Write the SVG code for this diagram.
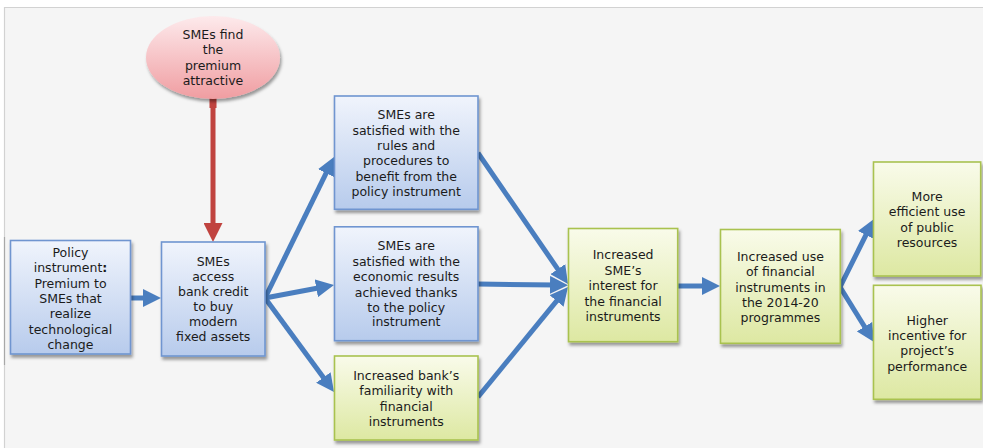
<svg xmlns="http://www.w3.org/2000/svg" width="983" height="448" viewBox="0 0 983 448">
<defs>
<linearGradient id="gBlue" x1="0" y1="0" x2="0" y2="1">
<stop offset="0" stop-color="#f0f4fc"/>
<stop offset="1" stop-color="#b7cbec"/>
</linearGradient>
<linearGradient id="gGreen" x1="0" y1="0" x2="0" y2="1">
<stop offset="0" stop-color="#f9fbea"/>
<stop offset="1" stop-color="#dde8a2"/>
</linearGradient>
<linearGradient id="gPink" x1="0" y1="0" x2="0" y2="1">
<stop offset="0" stop-color="#fdeaec"/>
<stop offset="1" stop-color="#f09da1"/>
</linearGradient>
<filter id="shadow" x="-20%" y="-20%" width="140%" height="150%">
<feDropShadow dx="1.5" dy="3" stdDeviation="1.8" flood-color="#000" flood-opacity="0.38"/>
</filter>
<marker id="headBlue" markerUnits="userSpaceOnUse" markerWidth="18" markerHeight="18" refX="6" refY="9" orient="auto" viewBox="0 0 18 18">
<path d="M0,0 L18,9 L0,18 z" fill="#4a7ebf"/>
</marker>
<marker id="headRed" markerUnits="userSpaceOnUse" markerWidth="19" markerHeight="19" refX="6" refY="9.5" orient="auto" viewBox="0 0 19 19">
<path d="M0,0 L19,9.5 L0,19 z" fill="#c0433f"/>
</marker>
</defs>
<style>
.box{stroke-width:1.6;filter:url(#shadow)}
.blue{fill:url(#gBlue);stroke:#6f95d0}
.green{fill:url(#gGreen);stroke:#a9c250}
.lbl{font-family:"DejaVu Sans","Verdana",sans-serif;font-size:12.5px;fill:#1b1b1b;text-anchor:middle}
.conn{fill:none;stroke:#4a7ebf;stroke-width:5;marker-end:url(#headBlue)}
.red{fill:none;stroke:#c0433f;stroke-width:5;marker-end:url(#headRed)}
</style>
<rect x="0" y="0" width="983" height="448" fill="#ffffff"/>
<rect x="4" y="7" width="979" height="441" fill="#f5f5f5"/>
<line x1="4" y1="7.5" x2="983" y2="7.5" stroke="#d2d2d2" stroke-width="1.2"/>
<line x1="4.5" y1="7" x2="4.5" y2="448" stroke="#d2d2d2" stroke-width="1.2"/>
<line x1="4.5" y1="237" x2="4.5" y2="365" stroke="#a8a8a8" stroke-width="1.2"/>

<g id="connectors">
<line class="red" x1="213" y1="99" x2="213" y2="229"/>
<rect x="209.5" y="98" width="7" height="10" fill="#c0433f"/>
<line class="conn" x1="131" y1="298" x2="149" y2="298"/>
<line class="conn" x1="265" y1="298" x2="328.7" y2="167.8"/>
<line class="conn" x1="265" y1="298" x2="322.2" y2="287.2"/>
<line class="conn" x1="265" y1="298" x2="326.9" y2="382.3"/>
<line class="conn" x1="478" y1="153" x2="561.2" y2="274.1"/>
<line class="conn" x1="478" y1="284" x2="556" y2="285"/>
<line class="conn" x1="478" y1="397" x2="560.4" y2="296.3"/>
<line class="conn" x1="678" y1="286" x2="708" y2="286"/>
<line class="conn" x1="840" y1="287" x2="868.6" y2="229.7"/>
<line class="conn" x1="840" y1="287" x2="867.7" y2="331.8"/>
</g>

<g id="premium">
<ellipse cx="213" cy="57.5" rx="67" ry="41.5" fill="url(#gPink)" filter="url(#shadow)"/>
<text class="lbl"><tspan x="213" y="38.6">SMEs find</tspan><tspan x="213" y="54.3">the</tspan><tspan x="213" y="70">premium</tspan><tspan x="213" y="85">attractive</tspan></text>
</g>

<g id="policy">
<rect class="box blue" x="10.5" y="240.5" width="120" height="113.5"/>
<text class="lbl"><tspan x="70.5" y="257">Policy</tspan><tspan x="70.5" y="272.3">instrument<tspan font-weight="bold">:</tspan></tspan><tspan x="70.5" y="288.3">Premium to</tspan><tspan x="70.5" y="303.3">SMEs that</tspan><tspan x="70.5" y="318.3">realize</tspan><tspan x="70.5" y="334.3">technological</tspan><tspan x="70.5" y="349.3">change</tspan></text>
</g>

<g id="access">
<rect class="box blue" x="161.5" y="242" width="103.5" height="114"/>
<text class="lbl"><tspan x="213.2" y="266">SMEs</tspan><tspan x="213.2" y="281.3">access</tspan><tspan x="213.2" y="296">bank credit</tspan><tspan x="213.2" y="311.3">to buy</tspan><tspan x="213.2" y="326.3">modern</tspan><tspan x="213.2" y="341.3">fixed assets</tspan></text>
</g>

<g id="rules">
<rect class="box blue" x="334.5" y="96" width="143.5" height="113.3"/>
<text class="lbl"><tspan x="406.2" y="118.6">SMEs are</tspan><tspan x="406.2" y="135">satisfied with the</tspan><tspan x="406.2" y="150">rules and</tspan><tspan x="406.2" y="165">procedures to</tspan><tspan x="406.2" y="180.6">benefit from the</tspan><tspan x="406.2" y="196">policy instrument</tspan></text>
</g>

<g id="results">
<rect class="box blue" x="334.5" y="226.8" width="143.5" height="113.9"/>
<text class="lbl"><tspan x="406.2" y="250.3">SMEs are</tspan><tspan x="406.2" y="266">satisfied with the</tspan><tspan x="406.2" y="281">economic results</tspan><tspan x="406.2" y="296.6">achieved thanks</tspan><tspan x="406.2" y="311.6">to the policy</tspan><tspan x="406.2" y="326.3">instrument</tspan></text>
</g>

<g id="bank">
<rect class="box green" x="334.5" y="356" width="143.5" height="84"/>
<text class="lbl"><tspan x="406.2" y="380">Increased bank’s</tspan><tspan x="406.2" y="395.3">familiarity with</tspan><tspan x="406.2" y="411">financial</tspan><tspan x="406.2" y="426">instruments</tspan></text>
</g>

<g id="interest">
<rect class="box green" x="568.5" y="228.5" width="109.2" height="113.2"/>
<text class="lbl"><tspan x="623.1" y="258.6">Increased</tspan><tspan x="623.1" y="275">SME’s</tspan><tspan x="623.1" y="290">interest for</tspan><tspan x="623.1" y="305.6">the financial</tspan><tspan x="623.1" y="320.6">instruments</tspan></text>
</g>

<g id="use">
<rect class="box green" x="720.5" y="229.5" width="119.8" height="113.8"/>
<text class="lbl"><tspan x="780.4" y="261">Increased use</tspan><tspan x="780.4" y="276.3">of financial</tspan><tspan x="780.4" y="291.6">instruments in</tspan><tspan x="780.4" y="307.3">the 2014-20</tspan><tspan x="780.4" y="322">programmes</tspan></text>
</g>

<g id="efficient">
<rect class="box green" x="873.5" y="162" width="107.2" height="114"/>
<text class="lbl"><tspan x="927.1" y="201">More</tspan><tspan x="927.1" y="216">efficient use</tspan><tspan x="927.1" y="231.6">of public</tspan><tspan x="927.1" y="246.6">resources</tspan></text>
</g>

<g id="incentive">
<rect class="box green" x="873.5" y="285.3" width="107.5" height="114"/>
<text class="lbl"><tspan x="927.2" y="325">Higher</tspan><tspan x="927.2" y="340">incentive for</tspan><tspan x="927.2" y="355.3">project’s</tspan><tspan x="927.2" y="370.6">performance</tspan></text>
</g>
</svg>
